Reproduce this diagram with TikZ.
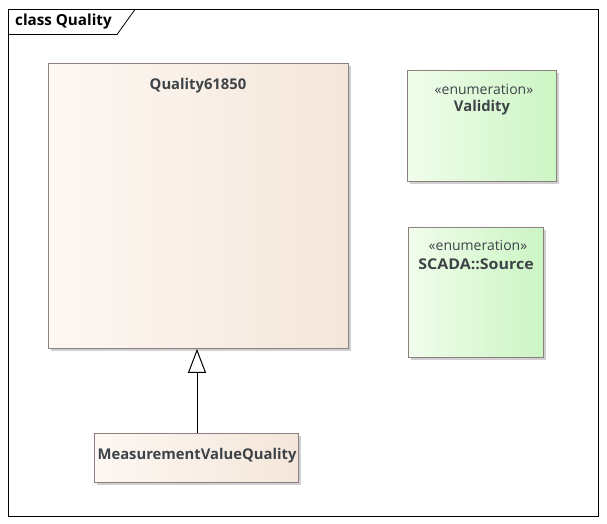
\documentclass[tikz,border=0pt]{standalone}
\usepackage{fontspec}
\setmainfont{Open Sans}
\usetikzlibrary{shadows,arrows.meta}
\definecolor{txt}{HTML}{3E4348}
\definecolor{bord}{HTML}{8C7F7D}
\definecolor{qL}{HTML}{FDF8F3}
\definecolor{qR}{HTML}{F4E6DA}
\definecolor{gL}{HTML}{F0FDEB}
\definecolor{gR}{HTML}{CCF5C4}
\tikzset{
  box/.style={draw=bord, line width=0.9pt, anchor=north west, inner sep=0pt,
    drop shadow={shadow xshift=3pt, shadow yshift=-3pt, fill=black!30, opacity=0.6}},
  cls/.style={box, left color=qL, right color=qR},
  enum/.style={box, left color=gL, right color=gR},
  ttl/.style={font=\bfseries\fontsize{14.8}{16}\selectfont, text=txt, inner sep=0pt},
  ster/.style={font=\fontsize{14}{16}\selectfont, text=txt, inner sep=0pt},
  gen/.style={draw=black, line width=1pt, -{Triangle[open, length=24pt, width=18pt, fill=white]}}
}
\begin{document}
\begin{tikzpicture}[x=1pt,y=-1pt]
\useasboundingbox (0,0) rectangle (607,524);
\fill[white] (0,0) rectangle (607,524);
% frame
\draw[black, line width=0.8pt] (8.5,9.5) rectangle (598.5,516.5);
\draw[black, line width=0.8pt] (8.5,34.5) -- (117,34.5) -- (135,9.5);
\node[font=\bfseries\fontsize{15.2}{17}\selectfont, anchor=west, inner sep=0pt] (frm) at (15,21.5) {class Quality};
% Quality61850
\node[cls, minimum width=300pt, minimum height=285pt] (q) at (48,63) {};
\node[ttl] (qt) at (198,85.5) {Quality61850};
% Validity
\node[enum, minimum width=149pt, minimum height=111pt] (v) at (407,70) {};
\node[ster] (vs) at (484,89) {«enumeration»};
\node[ttl] (vt) at (482,107.5) {Validity};
% SCADA::Source
\node[enum, minimum width=135pt, minimum height=130pt] (s) at (408,227) {};
\node[ster] (ss) at (478,245) {«enumeration»};
\node[ttl, xscale=1.08] (st) at (476,264.5) {SCADA::Source};
% MeasurementValueQuality
\node[cls, minimum width=204pt, minimum height=49pt] (m) at (94,433) {};
\node[ttl] (mt) at (197,456) {MeasurementValueQuality};
% generalization
\draw[gen] (m.north -| 197,0) -- (q.south -| 197,0);
\end{tikzpicture}
\end{document}
